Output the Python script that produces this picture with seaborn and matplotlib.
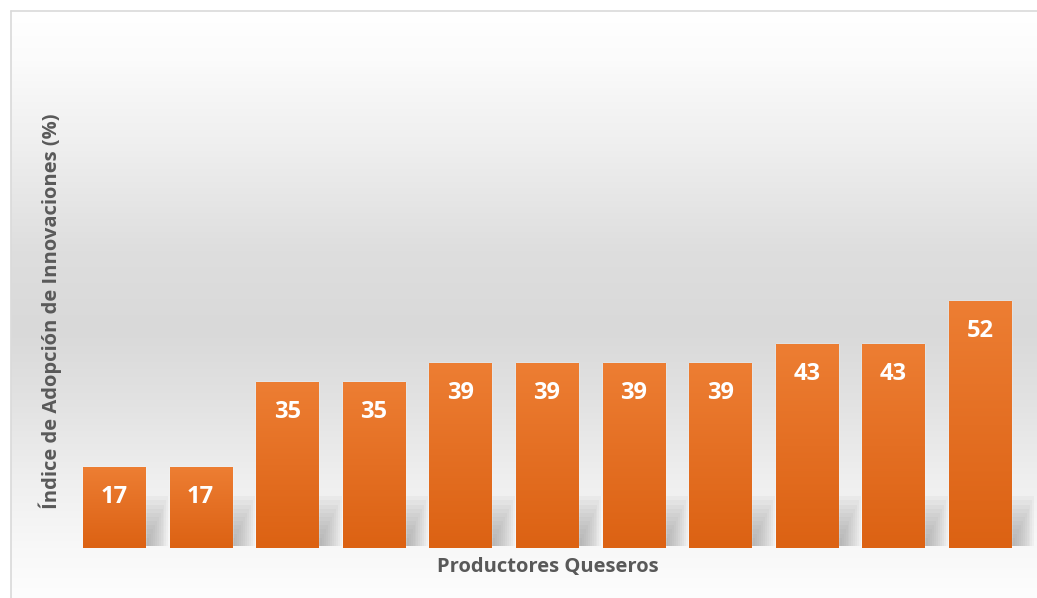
import numpy as np
import pandas as pd
import matplotlib
matplotlib.use("Agg")
import matplotlib.pyplot as plt
from matplotlib.colors import LinearSegmentedColormap, to_rgb
from matplotlib.patches import Rectangle
import seaborn as sns

# ---- data ----
productores = ["P1", "P2", "P3", "P4", "P5", "P6", "P7", "P8", "P9", "P10", "P11"]
indice = [17, 17, 35, 35, 39, 39, 39, 39, 43, 43, 52]
x_label = "Productores Queseros"
y_label = "Índice de Adopción de Innovaciones (%)"

df = pd.DataFrame({"productor": productores, "indice": indice})

sns.set_theme(style="white")
plt.rcParams["font.family"] = ["Open Sans", "DejaVu Sans"]

W, H = 1037, 598
fig = plt.figure(figsize=(W / 100, H / 100), dpi=100)
fig.patch.set_facecolor("white")

# ---- background gradient (whole chart area) ----
bg = fig.add_axes([0, 0, 1, 1], zorder=0)
stops_px = [0, 10, 60, 150, 250, 330, 400, 480, 548, 598]
stops_c = ["#ffffff", "#ffffff", "#fbfbfb", "#eeeeee", "#dedede", "#d9d9d9",
           "#e2e2e2", "#efefef", "#f8f8f8", "#fdfdfd"]
ys = np.arange(H)
cols = np.array([to_rgb(c) for c in stops_c])
grad = np.stack([np.interp(ys, stops_px, cols[:, k]) for k in range(3)], axis=1)
img = np.repeat(grad[:, None, :], 2, axis=1)
bg.imshow(img, aspect="auto", extent=[0, W, H, 0])
bg.set_xlim(0, W)
bg.set_ylim(H, 0)
bg.axis("off")
bg.add_patch(Rectangle((0, 0), W, 10, color="white", zorder=2))
bg.add_patch(Rectangle((0, 0), 10, H, color="white", zorder=2))
bg.plot([10.5, W], [10.5, 10.5], color="#d9d9d9", lw=1.2, zorder=3)
bg.plot([10.5, 10.5], [10.5, H], color="#d9d9d9", lw=1.2, zorder=3)

# ---- main axes ----
px_per_unit_x = 86.6
first_center = 114.0
px_per_unit_y = 4.75
bottom_px = 548
ax = fig.add_axes([10 / W, (H - bottom_px) / H, (W - 10) / W, (bottom_px - 10) / H], zorder=1)
ax.patch.set_alpha(0)

sns.barplot(data=df, x="productor", y="indice", color="#ED7D31", width=0.716,
            saturation=1, ax=ax, zorder=3)
bars = list(ax.patches)

xlim = ((10 - first_center) / px_per_unit_x, (W - first_center) / px_per_unit_x)
ylim = (0, (bottom_px - 10) / px_per_unit_y)

# soft shadows behind bars: nested translucent rectangles anchored at bar's right foot
n_layers = 12
for p in bars:
    x0, w, h = p.get_x(), p.get_width(), p.get_height()
    for i in range(n_layers):
        f = (i + 1) / n_layers
        dx = 0.27 * f
        hh = min(10.5, h) * f
        ax.add_patch(Rectangle((x0 + w * 0.5, 0.4), w * 0.5 + dx, hh, facecolor="#8c8c8c",
                               edgecolor="none", alpha=0.07, zorder=2))

# bar gradient
bar_cmap = LinearSegmentedColormap.from_list("o", ["#DC6213", "#E46F23", "#ED7E33"])
gradv = np.linspace(0, 1, 256).reshape(-1, 1)
for p in bars:
    x0, w, h = p.get_x(), p.get_width(), p.get_height()
    im = ax.imshow(gradv, extent=[x0, x0 + w, 0, h], origin="lower", cmap=bar_cmap,
                   aspect="auto", zorder=4)
    im.set_clip_path(p)

ax.set_xlim(*xlim)
ax.set_ylim(*ylim)

# value labels
for p, v in zip(bars, indice):
    ax.text(p.get_x() + p.get_width() / 2, v - 30 / px_per_unit_y, f"{v}",
            ha="center", va="center", color="white", fontsize=17,
            fontweight="bold", zorder=6)

ax.set_xticks([])
ax.set_yticks([])
ax.set_xlabel("")
ax.set_ylabel("")
for s in ax.spines.values():
    s.set_visible(False)

fig.text(548 / W, 1 - 567 / H, x_label, ha="center", va="center",
         fontsize=14.5, fontweight="bold", color="#595959")
fig.text(50 / W, 1 - 311 / H, y_label, ha="center", va="center", rotation=90,
         fontsize=14.5, fontweight="bold", color="#595959")

fig.savefig("out.png", dpi=100, facecolor="white")
